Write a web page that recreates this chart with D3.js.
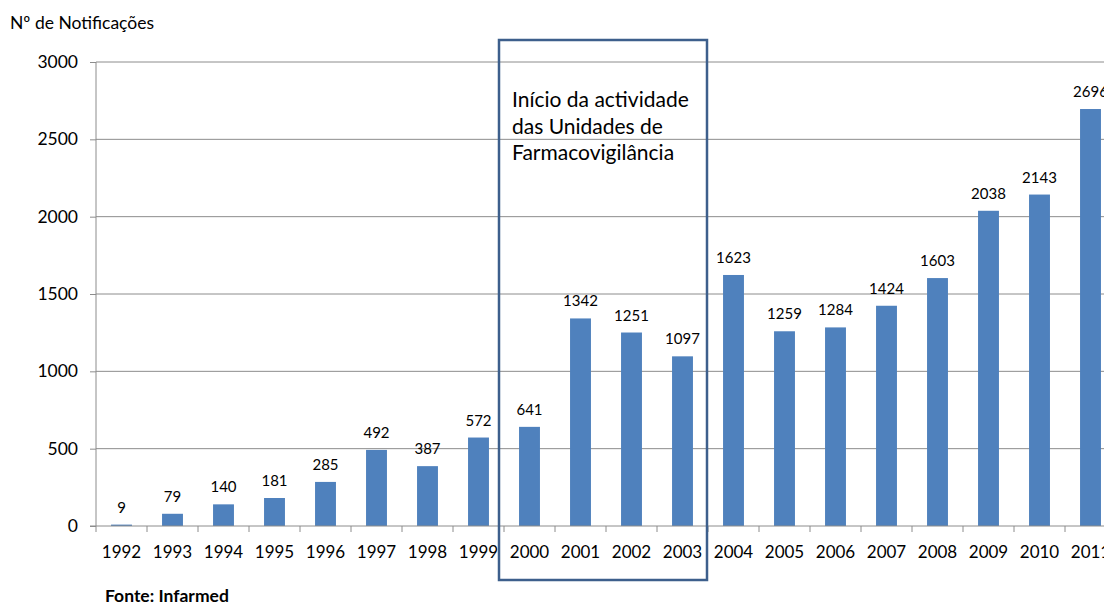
<!DOCTYPE html>
<html>
<head>
<meta charset="utf-8">
<script src="https://cdn.jsdelivr.net/npm/d3@7"></script>
<style>
  body { margin: 0; background: #fff; }
  svg { display: block; font-family: Lato, "Open Sans", sans-serif; }
</style>
</head>
<body>
<div id="chart"></div>
<script>
// chart data
const years = ["1992","1993","1994","1995","1996","1997","1998","1999","2000","2001",
               "2002","2003","2004","2005","2006","2007","2008","2009","2010","2011"];
const notifications = [9, 79, 140, 181, 285, 492, 387, 572, 641, 1342,
                       1251, 1097, 1623, 1259, 1284, 1424, 1603, 2038, 2143, 2696];
const yTicks = [0, 500, 1000, 1500, 2000, 2500, 3000];
const boxYears = ["2000", "2003"];
const boxLines = ["Início da actividade", "das Unidades de", "Farmacovigilância"];

const W = 1104, H = 606;
const plotLeft = 96, plotTop = 62, plotBottom = 526;
const step = 51;

const svg = d3.select("#chart").append("svg")
  .attr("width", W).attr("height", H);

const x = d3.scaleBand()
  .domain(years)
  .range([plotLeft, plotLeft + step * years.length])
  .paddingInner(0.59)
  .paddingOuter(0.295);

const y = d3.scaleLinear().domain([0, 3000]).range([plotBottom, plotTop]);

// gridlines
svg.append("g")
  .selectAll("line")
  .data(yTicks.filter(d => d > 0))
  .enter().append("line")
  .attr("x1", plotLeft).attr("x2", W)
  .attr("y1", d => y(d)).attr("y2", d => y(d))
  .attr("stroke", "#8c8c8c").attr("stroke-width", 1);

// y axis
const yAxis = svg.append("g")
  .attr("transform", "translate(" + plotLeft + ",0)")
  .call(d3.axisLeft(y).tickValues(yTicks).tickFormat(d3.format("d")).tickSize(6).tickPadding(12));
yAxis.selectAll("line, path").attr("stroke", "#8c8c8c");
yAxis.select(".domain").attr("d", "M0," + plotTop + "V" + plotBottom);
yAxis.selectAll("text").attr("font-size", 17.5).attr("fill", "#000")
  .attr("font-family", "Lato, 'Open Sans', sans-serif");

// bars
svg.selectAll(".bar")
  .data(years)
  .enter().append("rect")
  .attr("class", "bar")
  .attr("x", d => x(d))
  .attr("y", (d, i) => y(notifications[i]))
  .attr("width", x.bandwidth())
  .attr("height", (d, i) => plotBottom - y(notifications[i]))
  .attr("fill", "#4f81bd");

// value labels
svg.selectAll(".val")
  .data(years)
  .enter().append("text")
  .attr("class", "val")
  .attr("x", d => x(d) + x.bandwidth() / 2)
  .attr("y", (d, i) => y(notifications[i]) - 12)
  .attr("text-anchor", "middle")
  .attr("font-size", 15)
  .text((d, i) => notifications[i]);

// x axis
const xAxis = svg.append("g")
  .attr("transform", "translate(0," + plotBottom + ")");
xAxis.append("line")
  .attr("x1", plotLeft - 6).attr("x2", W)
  .attr("stroke", "#8c8c8c");
xAxis.selectAll(".tk")
  .data(d3.range(years.length + 1))
  .enter().append("line")
  .attr("x1", i => plotLeft + i * step).attr("x2", i => plotLeft + i * step)
  .attr("y1", 0).attr("y2", 6)
  .attr("stroke", "#8c8c8c");
xAxis.selectAll(".lbl")
  .data(years)
  .enter().append("text")
  .attr("x", d => x(d) + x.bandwidth() / 2)
  .attr("y", 32)
  .attr("text-anchor", "middle")
  .attr("font-size", 17)
  .text(d => d);

// highlight box
const bx0 = x(boxYears[0]) - x.step() * x.paddingInner() / 2 - 5;
const bx1 = x(boxYears[1]) + x.bandwidth() + x.step() * x.paddingInner() / 2 - 1;
svg.append("rect")
  .attr("x", bx0).attr("y", 40)
  .attr("width", bx1 - bx0).attr("height", 540)
  .attr("fill", "none")
  .attr("stroke", "#3d5f8c")
  .attr("stroke-width", 2.5);

svg.append("text")
  .attr("x", bx0 + 13).attr("y", 107)
  .attr("font-size", 21)
  .selectAll("tspan")
  .data(boxLines)
  .enter().append("tspan")
  .attr("x", bx0 + 13)
  .attr("dy", (d, i) => i === 0 ? 0 : 26.5)
  .text(d => d);

// titles
svg.append("text")
  .attr("x", 10).attr("y", 29)
  .attr("font-size", 17.5)
  .text("Nº de Notificações");

svg.append("text")
  .attr("x", 105).attr("y", 602)
  .attr("font-size", 17.5)
  .attr("font-weight", "bold")
  .text("Fonte: Infarmed");
</script>
</body>
</html>
